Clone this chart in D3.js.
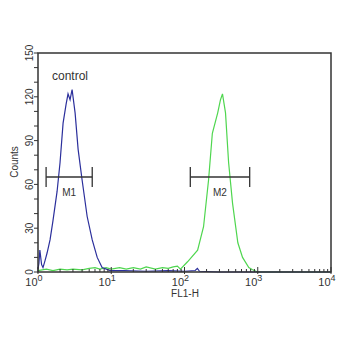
<!DOCTYPE html>
<html>
<head>
  <meta charset="utf-8">
  <script src="https://cdn.jsdelivr.net/npm/d3@7"></script>
  <style>
    body { margin: 0; background: #fff; }
    text { font-family: "Liberation Sans", Arial, sans-serif; fill: #333; }
  </style>
</head>
<body>
<script>
  // control (blue) histogram: FL1-H channel value and counts
  var controlX = [1.0, 1.03, 1.06, 1.12, 1.17, 1.25, 1.33, 1.46, 1.6, 1.82, 2.0, 2.2, 2.42, 2.57, 2.74, 2.92, 3.21, 3.53, 4.0, 4.69, 5.5, 6.43, 7.5, 9.7, 15, 30, 60, 100, 140, 150, 160, 300, 1000, 3000, 10000];
  var controlY = [2, 6, 15, 5, 3, 8, 13, 22, 35, 55, 75, 102, 115, 122, 118, 125, 109, 84, 63, 38, 22, 10, 3, 1, 1, 0.5, 1, 0.5, 1, 2.5, 0.5, 0, 0, 0, 0];

  // sample (green) histogram
  var sampleX = [1.0, 1.3, 1.6, 2.0, 2.5, 3.0, 4.0, 5.0, 6.0, 7.0, 8.5, 10, 13, 16, 20, 25, 30, 40, 50, 60, 70, 80, 88, 110, 151, 182, 213, 240, 284, 310, 330, 363, 400, 453, 535, 620, 755, 850, 1000, 2000, 5000, 10000];
  var sampleY = [1, 2, 1, 2, 1.5, 2, 1.5, 2.5, 3, 2, 3, 2, 3, 2, 3, 2, 3.5, 2, 3, 2.5, 3.5, 4, 2, 7, 15, 31, 63, 95, 109, 118, 122, 109, 75, 47, 20, 10, 3, 1.5, 0, 0, 0, 0];

  var yLabels = [0, 30, 60, 90, 120, 150];
  var xDecades = [0, 1, 2, 3, 4];
  var markers = [
    {name: "M1", from: 1.29, to: 5.5},
    {name: "M2", from: 120, to: 776}
  ];

  var plotLeft = 38, plotRight = 331, plotTop = 53, plotBottom = 272;

  var x = d3.scaleLog().domain([1, 10000]).range([plotLeft, plotRight]);
  var y = d3.scaleLinear().domain([0, 150]).range([plotBottom, plotTop]);

  var svg = d3.select("body").append("svg")
    .attr("width", 350).attr("height", 350);

  var line = d3.line()
    .x(function(d) { return x(d[0]); })
    .y(function(d) { return y(d[1]); });

  svg.append("path")
    .datum(d3.zip(sampleX, sampleY))
    .attr("d", line)
    .attr("fill", "none")
    .attr("stroke", "#4fd64f")
    .attr("stroke-width", 1.2);

  svg.append("path")
    .datum(d3.zip(controlX, controlY))
    .attr("d", line)
    .attr("fill", "none")
    .attr("stroke", "#2b2f9c")
    .attr("stroke-width", 1.2);

  // frame
  svg.append("rect")
    .attr("x", plotLeft).attr("y", plotTop)
    .attr("width", plotRight - plotLeft).attr("height", plotBottom - plotTop)
    .attr("fill", "none").attr("stroke", "#333").attr("stroke-width", 1.5);

  // y ticks every 10, labels every 30
  var yTicks = d3.range(0, 151, 10);
  svg.selectAll(".ytick").data(yTicks).enter().append("line")
    .attr("x1", plotLeft - 4).attr("x2", plotLeft)
    .attr("y1", function(d) { return y(d); })
    .attr("y2", function(d) { return y(d); })
    .attr("stroke", "#333");

  svg.selectAll(".ylab").data(yLabels).enter().append("text")
    .attr("transform", function(d) { return "translate(33," + y(d) + ") rotate(-90)"; })
    .attr("text-anchor", "middle")
    .style("font-size", "10px")
    .text(function(d) { return d; });

  svg.append("text")
    .attr("transform", "translate(18,162) rotate(-90)")
    .attr("text-anchor", "middle")
    .style("font-size", "10px")
    .text("Counts");

  // x ticks: decades and minor ticks
  var minor = [];
  xDecades.slice(0, 4).forEach(function(e) {
    for (var k = 2; k < 10; k++) minor.push(k * Math.pow(10, e));
  });
  svg.selectAll(".xminor").data(minor).enter().append("line")
    .attr("x1", function(d) { return x(d); })
    .attr("x2", function(d) { return x(d); })
    .attr("y1", plotBottom).attr("y2", plotBottom - 3)
    .attr("stroke", "#333");
  svg.selectAll(".xmajor").data(xDecades).enter().append("line")
    .attr("x1", function(d) { return x(Math.pow(10, d)); })
    .attr("x2", function(d) { return x(Math.pow(10, d)); })
    .attr("y1", plotBottom + 2).attr("y2", plotBottom - 5)
    .attr("stroke", "#333");

  var xl = svg.selectAll(".xlab").data(xDecades).enter().append("text")
    .attr("x", function(d) { return x(Math.pow(10, d)) - 4; })
    .attr("y", 286)
    .attr("text-anchor", "middle")
    .style("font-size", "11px");
  xl.append("tspan").text("10");
  xl.append("tspan").attr("dy", -5).style("font-size", "9px")
    .text(function(d) { return d; });

  svg.append("text")
    .attr("x", 185).attr("y", 297)
    .attr("text-anchor", "middle")
    .style("font-size", "10px")
    .text("FL1-H");

  svg.append("text")
    .attr("x", 52).attr("y", 80)
    .style("font-size", "12px")
    .text("control");

  // marker bars
  var my = 177;
  markers.forEach(function(m) {
    var g = svg.append("g");
    g.append("line").attr("x1", x(m.from)).attr("x2", x(m.to))
      .attr("y1", my).attr("y2", my);
    g.append("line").attr("x1", x(m.from)).attr("x2", x(m.from))
      .attr("y1", my - 10).attr("y2", my + 10);
    g.append("line").attr("x1", x(m.to)).attr("x2", x(m.to))
      .attr("y1", my - 10).attr("y2", my + 10);
    g.selectAll("line").attr("stroke", "#333").attr("stroke-width", 1.3);
    g.append("text")
      .attr("x", (x(m.from) + x(m.to)) / 2)
      .attr("y", my + 19)
      .attr("text-anchor", "middle")
      .style("font-size", "10px")
      .text(m.name);
  });
</script>
</body>
</html>
